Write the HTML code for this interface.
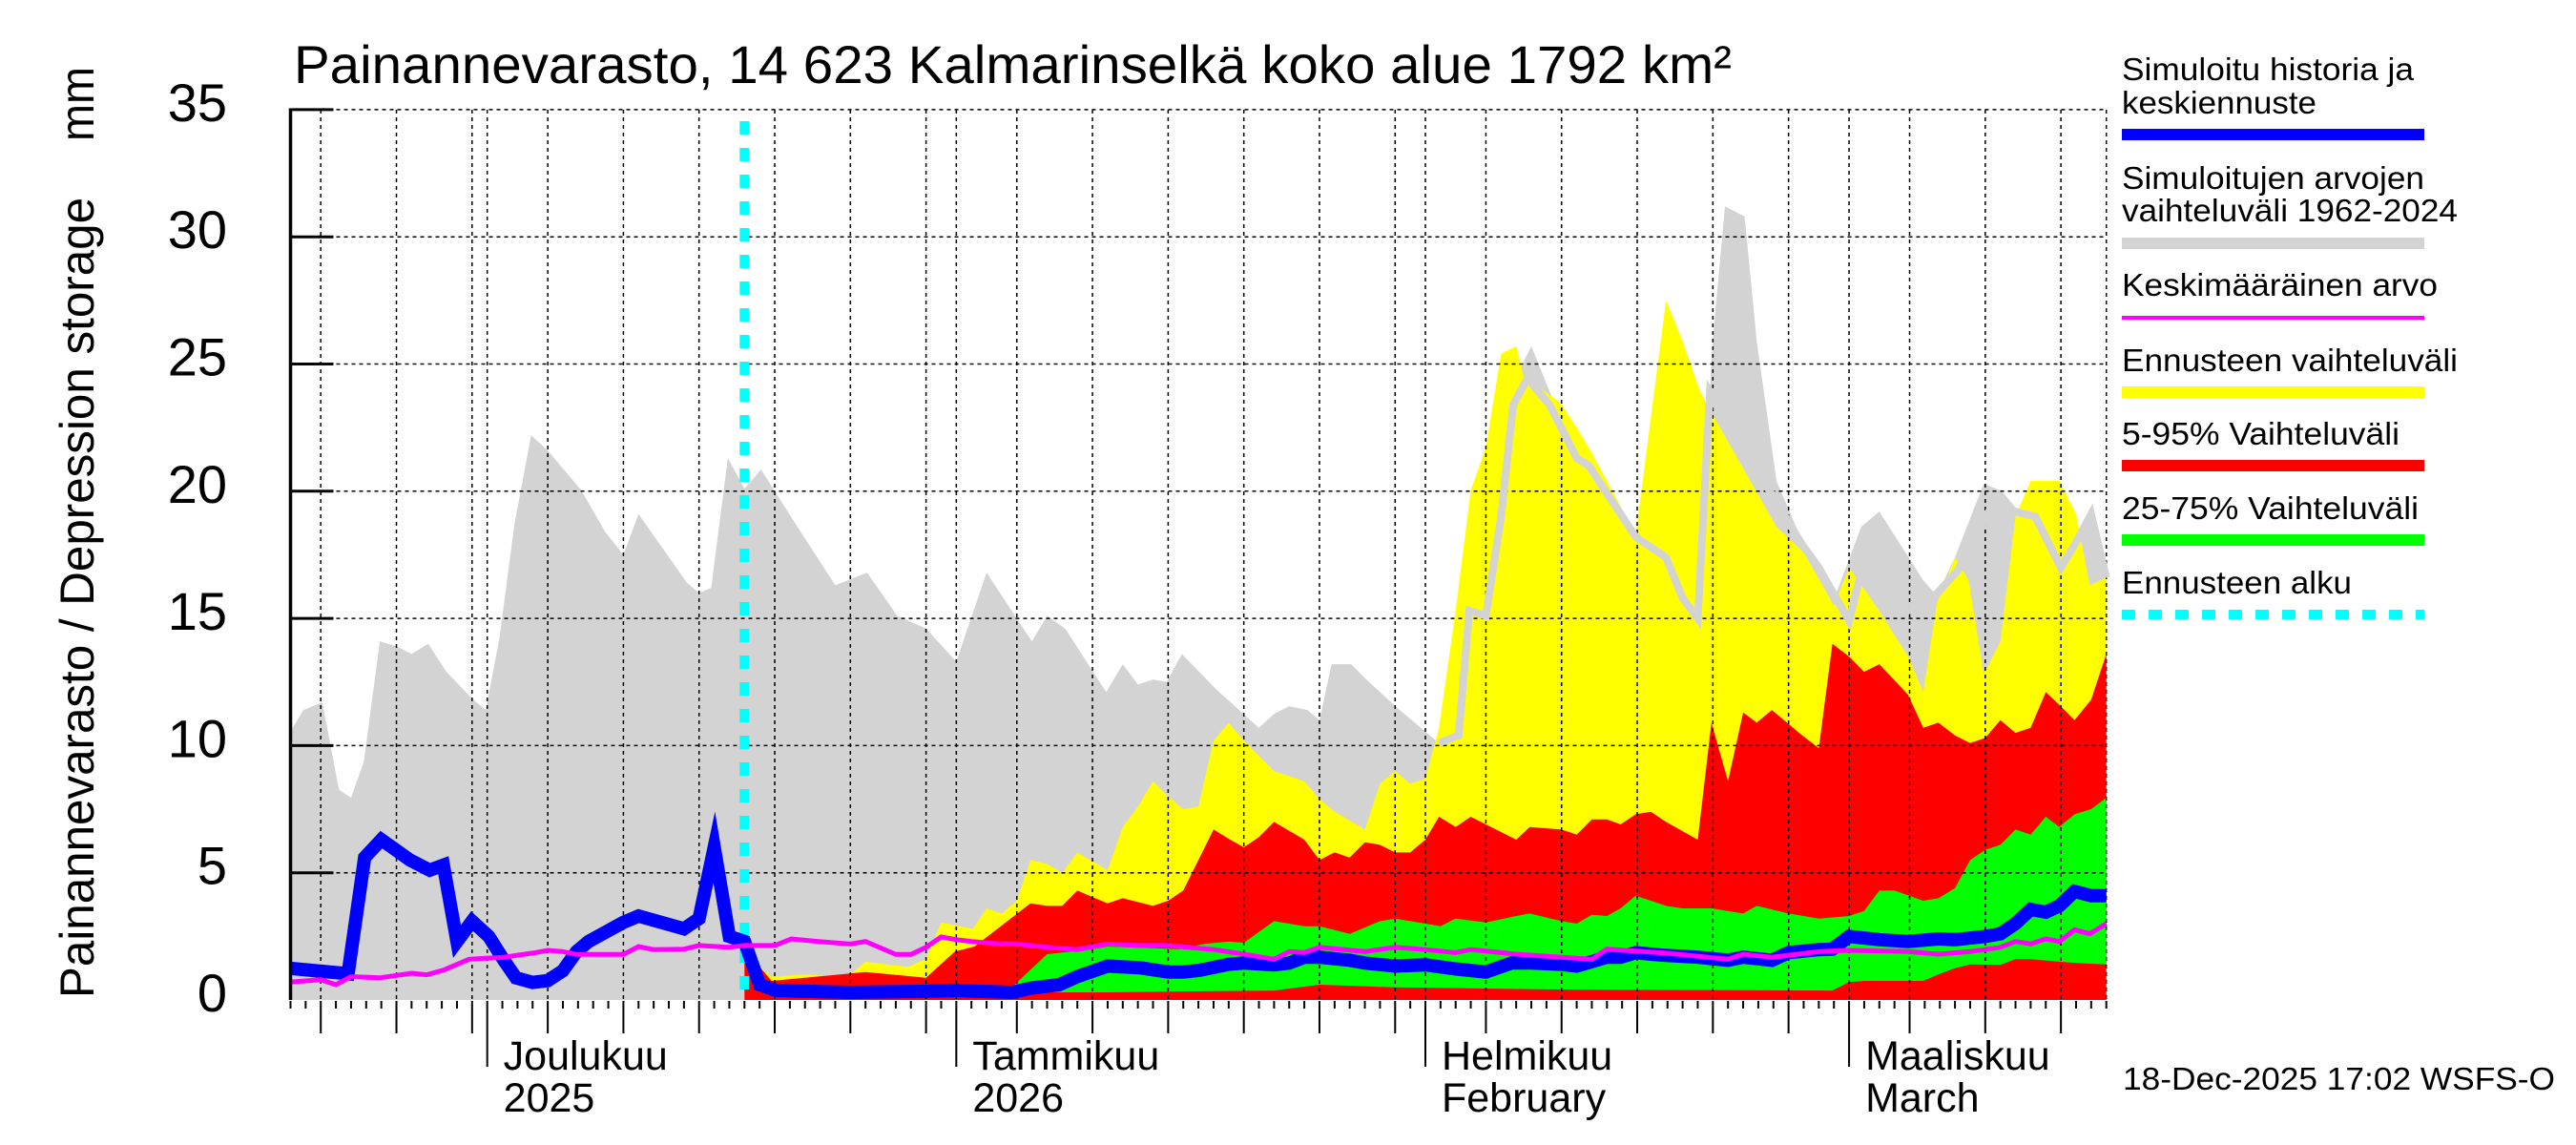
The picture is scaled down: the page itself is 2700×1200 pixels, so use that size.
<!DOCTYPE html>
<html><head><meta charset="utf-8"><style>
html,body{margin:0;padding:0;background:#fff;}
svg{display:block;font-family:"Liberation Sans",sans-serif;}
</style></head><body>
<svg id="chart" width="2700" height="1200" viewBox="0 0 2700 1200" xmlns="http://www.w3.org/2000/svg">
<rect x="0" y="0" width="2700" height="1200" fill="#fff"/>
<g id="bands"></g>
<g id="grid"></g>
<g id="lines"></g>
<g id="axes"></g>
<text x="308" y="87" font-size="56" textLength="1507" lengthAdjust="spacingAndGlyphs">Painannevarasto, 14 623 Kalmarinselkä koko alue 1792 km²</text>
<text transform="translate(98,1046) rotate(-90)" font-size="50" textLength="839" lengthAdjust="spacingAndGlyphs">Painannevarasto / Depression storage</text>
<text transform="translate(98,148) rotate(-90)" font-size="50" textLength="78" lengthAdjust="spacingAndGlyphs">mm</text>
<g id="legend" font-size="33">
<text x="2224" y="84" textLength="306" lengthAdjust="spacingAndGlyphs">Simuloitu historia ja</text>
<text x="2224" y="119" textLength="204" lengthAdjust="spacingAndGlyphs">keskiennuste</text>
<line x1="2224" y1="141" x2="2541" y2="141" stroke="#0000ff" stroke-width="12"/>
<text x="2224" y="198" textLength="317" lengthAdjust="spacingAndGlyphs">Simuloitujen arvojen</text>
<text x="2224" y="232" textLength="352" lengthAdjust="spacingAndGlyphs">vaihteluväli 1962-2024</text>
<line x1="2224" y1="255" x2="2541" y2="255" stroke="#d3d3d3" stroke-width="12"/>
<text x="2224" y="310" textLength="331" lengthAdjust="spacingAndGlyphs">Keskimääräinen arvo</text>
<line x1="2224" y1="333" x2="2541" y2="333" stroke="#ff00ff" stroke-width="4"/>
<text x="2224" y="389" textLength="352" lengthAdjust="spacingAndGlyphs">Ennusteen vaihteluväli</text>
<line x1="2224" y1="411" x2="2541" y2="411" stroke="#ffff00" stroke-width="12"/>
<text x="2224" y="466" textLength="291" lengthAdjust="spacingAndGlyphs">5-95% Vaihteluväli</text>
<line x1="2224" y1="488" x2="2541" y2="488" stroke="#ff0000" stroke-width="12"/>
<text x="2224" y="544" textLength="311" lengthAdjust="spacingAndGlyphs">25-75% Vaihteluväli</text>
<line x1="2224" y1="566" x2="2541" y2="566" stroke="#00ff00" stroke-width="12"/>
<text x="2224" y="622" textLength="241" lengthAdjust="spacingAndGlyphs">Ennusteen alku</text>
<line x1="2224" y1="644" x2="2541" y2="644" stroke="#00ffff" stroke-width="10" stroke-dasharray="14 14"/>
</g>
<text x="2225" y="1142" font-size="33" textLength="453" lengthAdjust="spacingAndGlyphs">18-Dec-2025 17:02 WSFS-O</text>
</svg>
<script>
// ---- data (day index 0 = 18 Nov 2025) ----
const grayDays = [0,0.85,2.1,3.2,4,4.85,5.9,7,8,9.1,10.3,12,12.9,13.8,14.8,15.9,17,19.2,20.8,22,23,26.2,27,27.8,28.9,30,31.1,33.5,36,38.1,40.1,42,44,46,48.1,49,50,51.2,53.9,55,56,57,57.9,58.9,61.2,64,65,66,67.2,68,68.8,70.1,71.1,73.1,75.7,77,78,79,80,81,82,83.5,85,88,91,93,94,94.8,96.1,96.9,98.2,100,101,102.1,103.8,105,107.9,108.8,110,111.9,113.1,114.5,116,117,118,119,120];
const grayMax = [10.56,11.4,11.7,8.27,7.95,9.37,14.1,13.9,13.6,14.0,12.9,11.85,11.4,14.2,18.7,22.2,21.6,20.05,18.4,17.5,19.1,16.4,16.0,16.2,21.3,20.1,20.85,18.6,16.3,16.8,15.1,14.6,13.3,16.8,14.9,14.1,15.1,14.6,12.1,13.2,12.4,12.6,12.5,13.6,12.2,10.7,11.25,11.55,11.4,11.0,13.2,13.2,12.6,11.5,10.2,10.5,15,15,19,24.5,25.7,23.5,21.5,18.5,17.5,16,26,31.2,30.8,25.9,20.4,17.9,17.0,15.9,18.6,19.2,16.5,15.9,17.4,20.3,20.0,19,17.5,16.8,18.3,19.1,16.7];

const yelDays = [30,31,31.8,34,36.3,37,38,39.4,40.8,42,43,45.1,46,47,48,48.9,50,51,52,54,55,56,57,58,59,60,61,62,63,65,67,68,69,71,72,73,74,75,75.9,77,78,79,80,81,81.5,83.9,85,86,88.9,90.9,92,93.1,93.8,98.2,100,102,103,105,106.9,107.9,108.8,110,110.9,111.9,113,114,115,116.9,118,118.9,120];
const yelMax = [2.3,1.3,0.9,1.0,0.9,1.0,1.5,1.4,1.3,1.6,3.05,2.8,3.6,3.4,3.9,5.5,5.35,5.0,5.8,5.1,6.8,7.6,8.6,8.0,7.5,7.6,10.2,10.9,10.2,9.0,8.6,7.9,7.4,6.7,8.5,9.0,8.5,8.7,10.7,15.3,20.05,21.7,25.4,25.7,24.5,23.5,22.5,21.5,18.3,27.5,25.9,24.0,23.2,18.6,17.6,15.5,17.0,15.3,13.5,12.1,15.6,17.4,16.5,12.8,14.1,19.0,20.4,20.4,19.1,16.3,16.6];

const redDays = [30,31,31.8,38,39.7,42,43.9,45.2,48.9,50,51,52,54,55,57,58,59,61,62.1,63,64,65,67,68,69,70,71,72,73,74,75,75.9,77,78,79,81,81.9,84,85,86,87,87.9,88.9,89.9,90.9,93,93.9,95,96,96.9,97.9,99.9,101,101.9,103,104,105,106.9,107.9,108.9,110,111,112,113,114,115,116,116.9,117.9,119,120];
const redMax = [2.3,1.3,0.75,1.1,1.0,0.87,1.9,2.1,3.8,3.7,3.7,4.3,3.8,4.0,3.7,3.9,4.3,6.7,6.3,6.0,6.4,7.0,6.3,5.5,5.8,5.6,6.2,6.1,5.8,5.8,6.3,7.2,6.8,7.2,6.9,6.3,6.8,6.7,6.5,7.1,7.1,6.9,7.3,7.4,7.0,6.3,10.9,8.6,11.3,10.9,11.4,10.4,9.9,14.0,13.5,12.9,13.2,12.0,10.7,10.9,10.4,10.1,10.3,11.0,10.5,10.7,12.1,11.6,11.0,11.8,13.6];

const grnDays = [30,31,45,47.5,50,53,54,58.7,60.4,62,63,65,67,68,70,72,73,75,76,77,79,81,81.9,84,85,86,87,87.9,88.9,89.9,90.9,92,93.9,96,96.9,99,101,103,104,105,106,107.9,108.9,110,111,112,113,114,115,116,116.9,117.9,119,120];
const grnHigh = [2.3,0.45,0.4,0.4,1.8,2.0,2.1,2.0,2.2,2.3,2.25,3.1,2.9,2.9,2.6,3.1,3.2,3.0,2.9,3.2,3.05,3.3,3.4,3.1,3.0,3.35,3.3,3.6,4.1,3.9,3.7,3.6,3.6,3.4,3.7,3.4,3.2,3.3,3.5,4.3,4.3,3.9,4.0,4.4,5.5,5.9,6.1,6.7,6.5,7.2,6.8,7.3,7.5,7.95];
const grnLowDays = [30,31,54,65,68,73,79,85,101.9,103,104,107.9,108.9,110,111,113,114,115,118,120];
const grnLow = [2.3,0.3,0.3,0.37,0.6,0.5,0.45,0.4,0.37,0.7,0.75,0.75,1.0,1.25,1.4,1.38,1.6,1.6,1.45,1.4];

const glineDays = [75.9,77.2,77.9,79,80,80.8,81.8,82.2,83.2,85,85.8,88.9,90.9,92,93,93.8,99.9,101,103,103.7,105,106.5,108.4,110.2,111,112.5,114,115.3,117,118,119,120];
const glineVals = [10.1,10.4,15.3,15.1,19.0,23.4,24.5,24.1,23.4,21.3,21,18.2,17.4,15.8,15.0,23.9,17.9,17.0,14.9,16.6,16.0,15.2,15.7,16.9,17.8,19.5,19.2,19.0,17.0,18.0,19.1,16.6];

const blueDays = [0,3.8,4.9,6,7.9,9.2,10.1,11,12,13.1,14.1,14.9,16,17,18,18.9,19.7,20.8,22,23,26,27,28,29,30,31,32.1,37,42,43.9,47.7,48.9,50.8,52,54,56.2,58,59,60.1,62,63,65,66,67,68,70,71,73,75,77,79,80.7,82,84,85,87,87.9,88.9,89.9,90.9,93,95,96,97.9,99,101,101.9,103,105,106.9,108.9,110,112,113,114,115,116,116.9,117.9,119,120];
const blueVals = [1.24,1.03,5.6,6.3,5.5,5.1,5.3,2.3,3.1,2.5,1.56,0.87,0.69,0.76,1.15,1.9,2.3,2.66,3.05,3.3,2.8,3.2,6.0,2.5,2.3,0.6,0.37,0.3,0.34,0.37,0.3,0.46,0.6,0.92,1.33,1.26,1.1,1.1,1.17,1.4,1.45,1.38,1.45,1.68,1.68,1.56,1.45,1.33,1.38,1.22,1.1,1.45,1.45,1.4,1.33,1.68,1.68,1.86,1.8,1.75,1.68,1.56,1.68,1.56,1.86,1.98,2.0,2.5,2.37,2.3,2.4,2.37,2.5,2.6,3.0,3.56,3.45,3.7,4.27,4.1,4.1];

const magDays = [0,2,3,4,5.9,8,9,10.1,11.8,14.1,14.9,16,17,18,18.9,22,23,24,26,27,29,30,32,33.1,34.9,37,38,40,41,42,43,44,45,46.9,48,50,52,54,56,58,61,63,65,66,67,68,71,73,75,77,78,81,84,86,87,90.9,95,96,97.9,101,103,106.9,108.9,111,113,114,115,116,116.9,117.9,118.9,120];
const magVals = [0.7,0.8,0.6,0.92,0.87,1.05,0.99,1.17,1.6,1.68,1.75,1.84,1.95,1.9,1.79,1.79,2.1,1.98,2.0,2.14,2.07,2.14,2.14,2.4,2.3,2.2,2.3,1.79,1.79,2.07,2.48,2.37,2.3,2.2,2.2,2.07,1.98,2.2,2.14,2.14,1.98,1.8,1.6,1.9,1.86,2.07,1.9,2.07,1.98,1.86,1.98,1.8,1.68,1.6,2.0,1.84,1.6,1.8,1.68,1.9,1.95,1.9,1.8,1.9,2.07,2.3,2.2,2.4,2.3,2.76,2.6,3.0];

const yTicks = [0,5,10,15,20,25,30,35];
const forecastStartDay = 30;
const totalDays = 120;
const monthLabels = [["Joulukuu","2025",13],["Tammikuu","2026",44],["Helmikuu","February",75],["Maaliskuu","March",103]];

// ---- axis functions ----
const X0 = 304.5, DX = 15.86, Y0 = 1048, DY = 26.66;
const X = d => X0 + d * DX;
const Y = v => Y0 - v * DY;
const NS = "http://www.w3.org/2000/svg";
function mk(tag, attrs, parent) {
  const e = document.createElementNS(NS, tag);
  for (const k in attrs) e.setAttribute(k, attrs[k]);
  parent.appendChild(e);
  return e;
}
function pts(days, vals) { return days.map((d, i) => X(d).toFixed(1) + "," + Y(vals[i]).toFixed(1)); }
function area(days, vals, lowDays, lowVals) {
  const up = pts(days, vals);
  let low;
  if (lowDays) low = pts(lowDays, lowVals).reverse();
  else low = [X(days[days.length - 1]).toFixed(1) + "," + Y0, X(days[0]).toFixed(1) + "," + Y0];
  return up.concat(low).join(" ");
}
const bands = document.getElementById("bands");
const grid = document.getElementById("grid");
const lines = document.getElementById("lines");
const axes = document.getElementById("axes");

let el;
el = mk("polygon", {points: area(grayDays, grayMax), fill: "#d3d3d3"}, bands);


el = mk("polygon", {points: area(yelDays, yelMax), fill: "#ffff00"}, bands);


el = mk("polygon", {points: area(redDays, redMax), fill: "#ff0000"}, bands);


el = mk("polygon", {points: area(grnDays, grnHigh, grnLowDays, grnLow), fill: "#00ff00"}, bands);



// grid
const start = new Date(2025, 10, 18);
for (let d = 0; d <= totalDays; d++) {
  const dt = new Date(start.getFullYear(), start.getMonth(), start.getDate() + d);
  const dom = dt.getDate();
  const isGrid = dom === 1 || dom % 5 === 0;
  if (isGrid || d === totalDays) {
    el = mk("line", {x1: X(d), y1: 115, x2: X(d), y2: Y0, stroke: "#000", "stroke-width": 1.5, "stroke-dasharray": "4 4"}, grid);
    
    
  }
  const len = dom === 1 ? 69 : (isGrid ? 34 : 8);
  el = mk("line", {x1: X(d), y1: 1049, x2: X(d), y2: 1049 + len, stroke: "#000", "stroke-width": 2}, axes);
  
  
}
yTicks.forEach(v => {
  if (v > 0) {
    el = mk("line", {x1: X0, y1: Y(v), x2: X(totalDays), y2: Y(v), stroke: "#000", "stroke-width": 1.5, "stroke-dasharray": "4 4"}, grid);
    
    
    el = mk("line", {x1: X0, y1: Y(v), x2: X0 + 45, y2: Y(v), stroke: "#000", "stroke-width": 3}, axes);
    
    
  }
  el = mk("text", {x: 238, y: Y(v) + 12, "font-size": 56, "text-anchor": "end"}, axes);
  el.textContent = String(v);
  
  
});
el = mk("line", {x1: X0, y1: 113.5, x2: X0, y2: Y0, stroke: "#000", "stroke-width": 3.5}, axes);


monthLabels.forEach(m => {
  el = mk("text", {x: X(m[2]) + 17, y: 1121, "font-size": 43}, axes);
  el.textContent = m[0];
  
  
  el = mk("text", {x: X(m[2]) + 17, y: 1165, "font-size": 43}, axes);
  el.textContent = m[1];
  
  
});

// lines
el = mk("polyline", {points: pts(glineDays, glineVals).join(" "), fill: "none", stroke: "#d3d3d3", "stroke-width": 8, "stroke-linejoin": "miter", "stroke-miterlimit": 10}, lines);


el = mk("line", {x1: X(forecastStartDay), y1: 127, x2: X(forecastStartDay), y2: 1043, stroke: "#00ffff", "stroke-width": 10, "stroke-dasharray": "14 14"}, lines);


el = mk("polyline", {points: pts(blueDays, blueVals).join(" "), fill: "none", stroke: "#0000ff", "stroke-width": 14, "stroke-linejoin": "miter", "stroke-miterlimit": 10}, lines);


el = mk("polyline", {points: pts(magDays, magVals).join(" "), fill: "none", stroke: "#ff00ff", "stroke-width": 5}, lines);


</script>
</body></html>
